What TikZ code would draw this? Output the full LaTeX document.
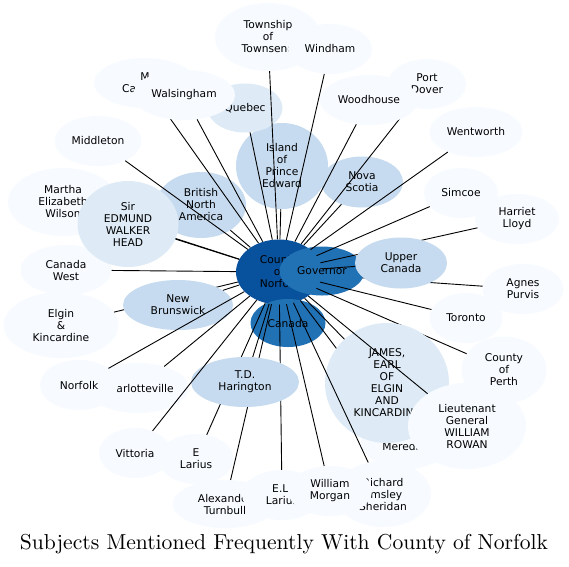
\documentclass[tikz,border=0pt]{standalone}
\usepackage{fontspec}
\newfontfamily\nodefont{DejaVu Sans}
\usetikzlibrary{shapes.geometric}
\definecolor{bA}{HTML}{F7FBFF}
\definecolor{bB}{HTML}{DEEBF7}
\definecolor{bC}{HTML}{C6DBEF}
\definecolor{bG}{HTML}{2171B5}
\definecolor{bH}{HTML}{08519C}
\tikzset{
  gnode/.style={ellipse, draw=none, inner sep=0pt, align=center, text=black,
    font=\nodefont\fontsize{10.7}{12}\selectfont},
  lvA/.style={gnode, fill=bA},
  lvB/.style={gnode, fill=bB},
  lvC/.style={gnode, fill=bC},
  lvG/.style={gnode, fill=bG},
  lvH/.style={gnode, fill=bH},
  sz/.style 2 args={minimum width=#1pt, minimum height=#2pt},
  link/.style={draw=black, line width=0.9pt}
}
\begin{document}
\begin{tikzpicture}[x=1pt,y=-1pt]
\useasboundingbox (0,0) rectangle (569,566);
\fill[white] (0,0) rectangle (569,566);

\node[lvH, sz={86}{65}] (county) at (279,272) {County\\of\\Norfolk};

\node[lvA, sz={81}{50}] (agnes) at (523,289) {Agnes\\Purvis};
\draw[link] (county) -- (agnes);
\coordinate (govc) at (322,271);
\draw[link] (county) -- (govc);
\node[lvG, sz={85}{49}] (governor) at (govc) {Governor};
\coordinate (canc) at (288,323);
\draw[link] (county) -- (canc);
\node[lvG, sz={75}{48}] (canada) at (canc) {Canada};

% top-left cluster
\node[lvA, sz={91}{50}] (canadawest) at (66,270) {Canada\\West};
\draw[link] (county) -- (canadawest);
\node[lvA, sz={110}{68}] (martha) at (63,202) {Martha\\Elizabeth\\Wilson};
\draw[link] (county) -- (martha);
\node[lvC, sz={90}{66}] (bna) at (201,205) {British\\North\\America};
\draw[link] (county) -- (bna);
\node[lvB, sz={101}{86}] (siredmund) at (128,224) {Sir\\EDMUND\\WALKER\\HEAD};
\draw[link] (county) -- (siredmund);
\node[lvA, sz={87}{50}] (middleton) at (98,141) {Middleton};
\draw[link] (county) -- (middleton);
\node[lvC, sz={92}{86}] (island) at (282,166) {Island\\of\\Prince\\Edward};
\draw[link] (county) -- (island);
\node[lvB, sz={75}{49}] (quebec) at (245,108) {Quebec};
\draw[link] (county) -- (quebec);
\node[lvA, sz={102}{50}] (mcar) at (145,83) {M\\Car\phantom{leton}};
\draw[link] (county) -- (mcar);
\node[lvA, sz={102}{50}] (walsingham) at (184,95) {Walsingham};
\draw[link] (county) -- (walsingham);
\node[lvA, sz={106}{68}] (township) at (268,37) {Township\\of\\Townsend};
\draw[link] (county) -- (township);
\node[lvA, sz={84}{50}] (windham) at (330,49) {Windham};
\draw[link] (county) -- (windham);

% right cluster
\node[lvC, sz={82}{51}] (nova) at (362,182) {Nova\\Scotia};
\draw[link] (county) -- (nova);
\node[lvA, sz={78}{50}] (portdover) at (427,84) {Port\\Dover};
\draw[link] (county) -- (portdover);
\node[lvA, sz={98}{50}] (woodhouse) at (369,100) {Woodhouse};
\draw[link] (county) -- (woodhouse);
\node[lvA, sz={93}{50}] (wentworth) at (476,132) {Wentworth};
\draw[link] (county) -- (wentworth);
\node[lvA, sz={74}{50}] (simcoe) at (461,193) {Simcoe};
\draw[link] (county) -- (simcoe);
\node[lvA, sz={84}{50}] (harriet) at (517,219) {Harriet\\Lloyd};
\draw[link] (county) -- (harriet);
\node[lvC, sz={92}{51}] (upper) at (401,263) {Upper\\Canada};
\draw[link] (county) -- (upper);
\node[lvA, sz={73}{50}] (toronto) at (466,318) {Toronto};
\draw[link] (county) -- (toronto);
\node[lvA, sz={85}{67}] (perth) at (504,370) {County\\of\\Perth};
\draw[link] (county) -- (perth);
\node[lvA, sz={90}{56}] (meredith) at (406,441) {\phantom{M}\\Meredith};
\draw[link] (county) -- (meredith);
\node[lvB, sz={124}{120}] (james) at (387,383) {JAMES,\\EARL\\OF\\ELGIN\\AND\\KINCARDINE};
\draw[link] (county) -- (james);
\node[lvA, sz={118}{86}] (ltgen) at (467,426) {Lieutenant\\General\\WILLIAM\\ROWAN};
\draw[link] (county) -- (ltgen);
\node[lvA, sz={96}{66}] (richard) at (383,494) {Richard\\Emsley\\Sheridan};
\draw[link] (county) -- (richard);

% bottom cluster
\node[lvA, sz={105}{48}] (alexander) at (225,504) {Alexander\\Turnbull};
\draw[link] (county) -- (alexander);
\node[lvA, sz={80}{50}] (el) at (282,495) {E.L.\\Larius};
\draw[link] (county) -- (el);
\node[lvA, sz={84}{50}] (william) at (330,491) {William\\Morgan};
\draw[link] (county) -- (william);
\node[lvA, sz={75}{50}] (elarius) at (196,459) {E\\Larius};
\draw[link] (county) -- (elarius);
\node[lvC, sz={108}{50}] (td) at (245,382) {T.D.\\Harington};
\draw[link] (county) -- (td);
\node[lvA, sz={115}{66}] (elgin) at (61,325) {Elgin\\\&\\Kincardine};
\draw[link] (county) -- (elgin);
\node[lvC, sz={110}{50}] (nb) at (178,305) {New\\Brunswick};
\draw[link] (county) -- (nb);
\node[lvA, sz={100}{50}] (charlotteville) at (138,388) {Charlotteville};
\draw[link] (county) -- (charlotteville);
\node[lvA, sz={72}{50}] (vittoria) at (135,453) {Vittoria};
\draw[link] (county) -- (vittoria);
\node[lvA, sz={78}{50}] (norfolk) at (79,385) {Norfolk};
\draw[link] (county) -- (norfolk);

\node (title) at (284,544) {\resizebox{528pt}{!}{Subjects Mentioned Frequently With County of Norfolk}};
\end{tikzpicture}
\end{document}
